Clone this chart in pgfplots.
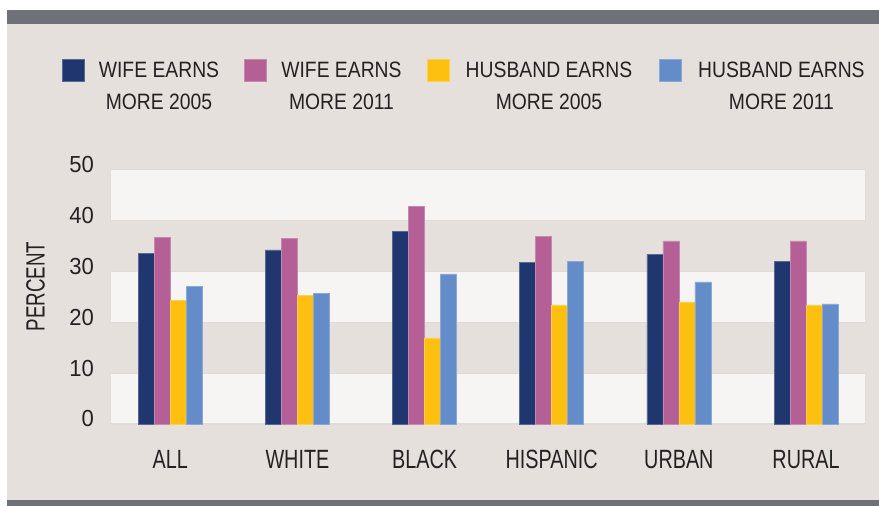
\documentclass[border=0pt]{standalone}
\usepackage{fontspec}
\setmainfont{Liberation Sans}
\newfontfamily\legfam{Liberation Sans}[FakeStretch=0.87]
\newfontfamily\catfam{Liberation Sans}[FakeStretch=0.75]
\newfontfamily\labfam{Liberation Sans}[FakeStretch=0.71]
\newfontfamily\tickfam{Liberation Sans}[FakeStretch=0.95]
\usepackage{pgfplots}
\usepackage{pgfplotstable}
\pgfplotsset{compat=1.18}

\definecolor{navybar}{RGB}{31,55,110}
\definecolor{pinkbar}{RGB}{180,96,150}
\definecolor{yelbar}{RGB}{253,192,16}
\definecolor{bluebar}{RGB}{100,140,200}
\definecolor{bgbeige}{RGB}{230,224,220}
\definecolor{band}{RGB}{246,245,243}
\definecolor{bandedge}{RGB}{224,220,216}
\definecolor{darkbar}{RGB}{111,113,121}
\definecolor{textdark}{RGB}{35,33,34}

\newcommand{\legfont}{\legfam\fontsize{22.3}{32}\selectfont}
\newcommand{\catfont}{\catfam\fontsize{26.5}{30}\selectfont}
\newcommand{\tickfont}{\tickfam\fontsize{23.3}{28}\selectfont}
\newcommand{\labfont}{\labfam\fontsize{26.5}{30}\selectfont}

\pgfplotstableread{
cat navy05 pink11 yel05 blue11
0 33.5 36.7 24.3 27.0
1 34.2 36.5 25.2 25.6
2 37.8 42.7 16.9 29.5
3 31.8 36.9 23.4 31.9
4 33.3 36.0 24.0 27.9
5 31.9 36.0 23.4 23.6
}\datatable

\newcommand{\legtext}[3]{\begin{tabular}[t]{@{}c@{}}\makebox[#1][c]{#2}\\#3\end{tabular}}

\begin{document}
\begin{tikzpicture}
\useasboundingbox (0bp,0bp) rectangle (879bp,506bp);
\fill[white] (0bp,0bp) rectangle (879bp,506bp);
\fill[bgbeige] (7bp,6bp) rectangle (879bp,482bp);
\fill[darkbar] (7bp,482bp) rectangle (879bp,496bp);
\fill[darkbar] (7bp,0bp) rectangle (879bp,6bp);
\begin{axis}[
  at={(110bp,82bp)}, anchor=south west,
  scale only axis, width=755bp, height=254.5bp,
  ymin=0, ymax=50, xmin=-0.474, xmax=5.464,
  ybar=0pt, bar width=16bp,
  axis line style={draw=none},
  major tick length=0pt,
  ytick={0,10,20,30,40,50},
  xtick={0,1,2,3,4,5},
  xticklabels={ALL,WHITE,BLACK,HISPANIC,URBAN,RURAL},
  /pgf/number format/assume math mode=true,
  yticklabel style={font=\tickfont, text=textdark, anchor=base east, inner sep=0pt, xshift=-16bp, yshift=-3bp},
  xticklabel style={font=\catfont, text=textdark, anchor=base, inner sep=0pt, yshift=-44bp},
  ylabel={PERCENT},
  every axis y label/.style={at={(axis description cs:-0.0987,0.54)}, rotate=90, anchor=center, font=\labfont, text=textdark, inner sep=0pt},
  legend columns=4,
  legend style={at={(axis description cs:-0.0636,1.4554)}, anchor=north west,
    draw=none, fill=none, inner sep=0pt, outer sep=0pt, font=\legfont, text=textdark,
    cells={anchor=base west, inner sep=0pt},
    /tikz/every odd column/.append style={column sep=12bp},
    /tikz/every even column/.append style={column sep=23bp}},
  legend image code/.code={\fill[#1] (0bp,-3bp) rectangle (22bp,19bp);},
  clip=false,
]
\fill[band, draw=bandedge] (rel axis cs:0,0.8) rectangle (rel axis cs:1,1);
\fill[band, draw=bandedge] (rel axis cs:0,0.4) rectangle (rel axis cs:1,0.6);
\fill[band, draw=bandedge] (rel axis cs:0,0) rectangle (rel axis cs:1,0.2);
\draw[bandedge, line width=1bp] (rel axis cs:0,0) -- (rel axis cs:1,0);
\addplot[fill=navybar, draw=navybar!75!white, line width=0.5bp] table[x=cat,y=navy05]{\datatable};
\addlegendentry{\legtext{121bp}{WIFE EARNS}{MORE 2005}}
\addplot[fill=pinkbar, draw=pinkbar!75!white, line width=0.5bp] table[x=cat,y=pink11]{\datatable};
\addlegendentry{\legtext{121bp}{WIFE EARNS}{MORE 2011}}
\addplot[fill=yelbar, draw=yelbar!75!white, line width=0.5bp] table[x=cat,y=yel05]{\datatable};
\addlegendentry{\legtext{171bp}{HUSBAND EARNS}{MORE 2005}}
\addplot[fill=bluebar, draw=bluebar!75!white, line width=0.5bp] table[x=cat,y=blue11]{\datatable};
\addlegendentry{\legtext{171bp}{HUSBAND EARNS}{MORE 2011}}
\end{axis}
\end{tikzpicture}
\end{document}
